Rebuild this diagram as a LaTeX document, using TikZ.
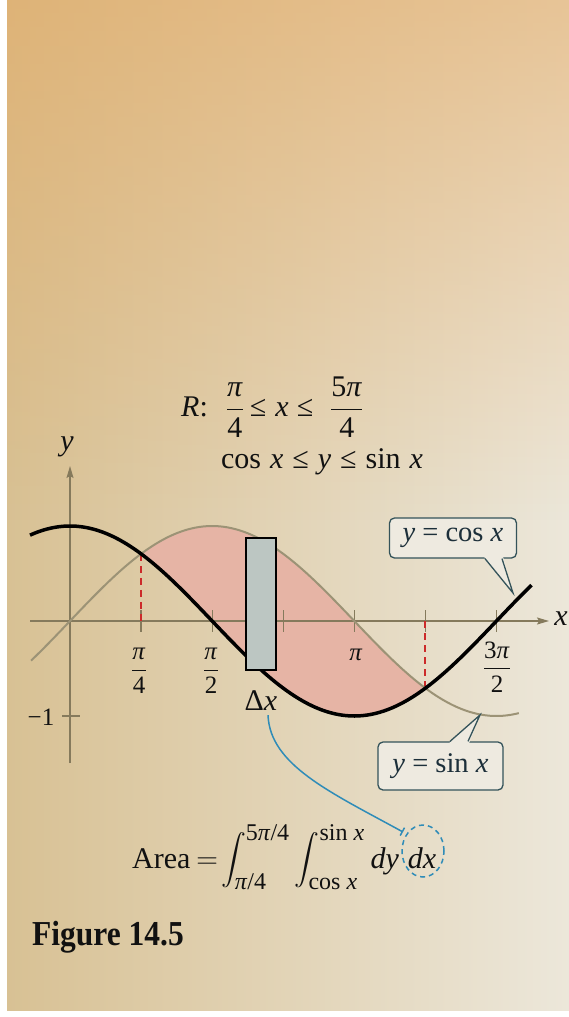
\RequirePackage{fix-cm}
\documentclass[tikz,border=0pt]{standalone}
\usepackage{amsmath}
\usepackage{graphicx}
\usepackage{fontspec}
\setmainfont{Liberation Serif}
\usetikzlibrary{arrows.meta,fadings,shapes.geometric}

\definecolor{bgL}{HTML}{D8C194}
\definecolor{bgR}{HTML}{ECE7DA}
\definecolor{glow}{HTML}{E4A860}
\definecolor{ink}{HTML}{111111}
\definecolor{axiscol}{HTML}{857A5C}
\definecolor{sincol}{HTML}{9C9376}
\definecolor{regionfill}{HTML}{E6B4A5}
\definecolor{stripfill}{HTML}{BCC6C2}
\definecolor{dashred}{HTML}{CC2A2A}
\definecolor{calloutline}{HTML}{34535A}
\definecolor{callouttext}{HTML}{1C2F3A}
\definecolor{calloutfill}{HTML}{EEEAE0}
\definecolor{linkblue}{HTML}{2F8CB8}

\tikzfading[name=topglow, top color=transparent!0, bottom color=transparent!100]

\newcommand{\ipi}{\textit{π}}
\newcommand{\tf}[2]{$\dfrac{\text{#1}}{\text{#2}}$}
\newcommand{\lmt}[1]{\text{\fontsize{24}{24}\selectfont #1}}
\newcommand{\hgap}[1]{\hspace{#1pt}}

\begin{document}
\begin{tikzpicture}[x=1pt,y=-1pt,
  lbl/.style={inner sep=0pt, text=ink, font=\fontsize{30}{34}\selectfont},
  ticklbl/.style={inner sep=0pt, text=ink, font=\fontsize{25}{28}\selectfont},
  axisline/.style={draw=axiscol, line width=1.3pt},
  tickmark/.style={draw=axiscol, line width=1.3pt},
  cosline/.style={draw=black, line width=3.5pt},
  sinline/.style={draw=sincol, line width=2pt},
  guide/.style={draw=dashred, line width=1.8pt, dash pattern=on 7pt off 5pt},
  callout/.style={draw=calloutline, line width=1.3pt, fill=calloutfill, rounded corners=5pt, text=callouttext, font=\fontsize{28.5}{30}\selectfont, inner sep=0pt},
  pointer/.style={draw=calloutline, line width=1.3pt},
  link/.style={draw=linkblue, line width=1.5pt},
]
\useasboundingbox (0,0) rectangle (569,1017);
% page background
\fill[white] (0,0) rectangle (569,1017);
\shade[left color=bgL, right color=bgR] (7,0) rectangle (569,1010);
\fill[glow, path fading=topglow, fill opacity=0.55] (7,0) rectangle (569,520);

% region between the curves
\fill[regionfill] plot[domain=pi/4:5*pi/4, samples=80] ({70+90.5*\x},{621-95*sin(\x r)})
  -- plot[domain=5*pi/4:pi/4, samples=80] ({70+90.5*\x},{621-95*cos(\x r)}) -- cycle;

% axes
\coordinate (xstart) at (30,621);
\coordinate (xend) at (549,621);
\coordinate (ystart) at (70,763);
\coordinate (yend) at (70,466);
\draw[axisline, -{Stealth[length=12pt,width=7pt,inset=2pt]}] (xstart) -- (xend);
\draw[axisline, -{Stealth[length=12pt,width=7pt,inset=2pt]}] (ystart) -- (yend);
\node[lbl] (ylab) at (67,447) {\textit{y}};
\node[lbl] (xlab) at (561,619) {\textit{x}};
\foreach \t in {1,...,6}
  \draw[tickmark] ({70+90.5*\t*pi/4},610) -- ++(0,22);
\draw[tickmark] (62,716) -- (80,716);
\node[ticklbl] (mone) at (41,717) {−1};

% guides
\coordinate (p1) at ({70+90.5*pi/4},{621-95*0.7071});
\coordinate (p2) at ({70+90.5*5*pi/4},{621+95*0.7071});
\draw[guide] (p1) -- (p1 |- xstart);
\draw[guide] (p2 |- xstart) -- (p2);

% curves
\draw[sinline] plot[domain=-0.43:4.96, samples=120, smooth] ({70+90.5*\x},{621-95*sin(\x r)});
\draw[cosline] plot[domain=-0.442:5.1, samples=120, smooth] ({70+90.5*\x},{621-95*cos(\x r)});

% representative strip
\node[draw=black, line width=1.5pt, fill=stripfill, minimum width=30pt, minimum height=132pt, inner sep=0pt] (strip) at (261,604) {};
\node[lbl] (dxlab) at (261,701) {Δ\textit{x}};

% tick labels
\node[ticklbl] (lpifour) at (139,671) {\tf{\ipi}{4}};
\node[ticklbl] (lpitwo) at (211,671) {\tf{\ipi}{2}};
\node[ticklbl] (lpi) at (356,655) {\ipi};
\node[ticklbl] (lthreepi) at (497,667) {\tf{3\ipi}{2}};

% region description
\node[lbl, anchor=west] (rdef) at (181,407) {\textit{R}:\hgap{18}\tf{\ipi}{4}\hgap{6}≤\hgap{9}\textit{x}\hgap{8}≤\hgap{17}\tf{5\ipi}{4}};
\node[lbl] (rcond) at (322,462) {cos\hgap{9}\textit{x}\hgap{9}≤\hgap{9}\textit{y}\hgap{9}≤\hgap{9}sin\hgap{9}\textit{x}};

% callouts
\node[callout, minimum width=127pt, minimum height=40pt] (cosbox) at (453,538) {\textit{y} = cos \textit{x}};
\coordinate (costip) at (513,593);
\fill[calloutfill] ([xshift=31pt,yshift=2pt]cosbox.south) -- (costip) -- ([xshift=50pt,yshift=2pt]cosbox.south) -- cycle;
\draw[pointer] ([xshift=32pt]cosbox.south) -- (costip) -- ([xshift=49pt]cosbox.south);

\node[callout, minimum width=125pt, minimum height=48pt] (sinbox) at (440.5,766) {\textit{y} = sin \textit{x}};
\coordinate (sintip) at (480,715);
\fill[calloutfill] ([xshift=8.5pt,yshift=-2pt]sinbox.north) -- (sintip) -- ([xshift=28.5pt,yshift=-2pt]sinbox.north) -- cycle;
\draw[pointer] ([xshift=9.5pt]sinbox.north) -- (sintip) -- ([xshift=27.5pt]sinbox.north);

% area formula
\node[lbl, anchor=base west, font=\fontsize{30}{34}\selectfont] (area) at (132,868)
  {Area\hgap{6}$=$\hgap{3}$\displaystyle\int_{\lmt{\ipi/4}}^{\lmt{5\ipi/4}}\int_{\lmt{cos \textit{x}}}^{\lmt{sin \textit{x}}}$\hgap{6}\textit{dy}};
\node[lbl, anchor=base, font=\fontsize{30}{34}\selectfont] (dxterm) at (422,868) {\textit{dx}};
\node[draw=linkblue, line width=1.5pt, dash pattern=on 5pt off 4pt, ellipse, minimum width=42pt, minimum height=52pt, inner sep=0pt] (dxring) at (423,851) {};

% connector from the strip width to dx
\coordinate (linkend) at (403,832);
\draw[link, -{Bar[width=9pt,line width=1.5pt]}] ([xshift=7pt,yshift=-4pt]dxlab.south) .. controls (270,765) and (330,792) .. (linkend);

% caption
\node[anchor=west, inner sep=0pt, text=ink, font=\bfseries\fontsize{35}{38}\selectfont] (figlbl) at (32,937) {\scalebox{0.9}[1]{Figure 14.5}};
\end{tikzpicture}
\end{document}
